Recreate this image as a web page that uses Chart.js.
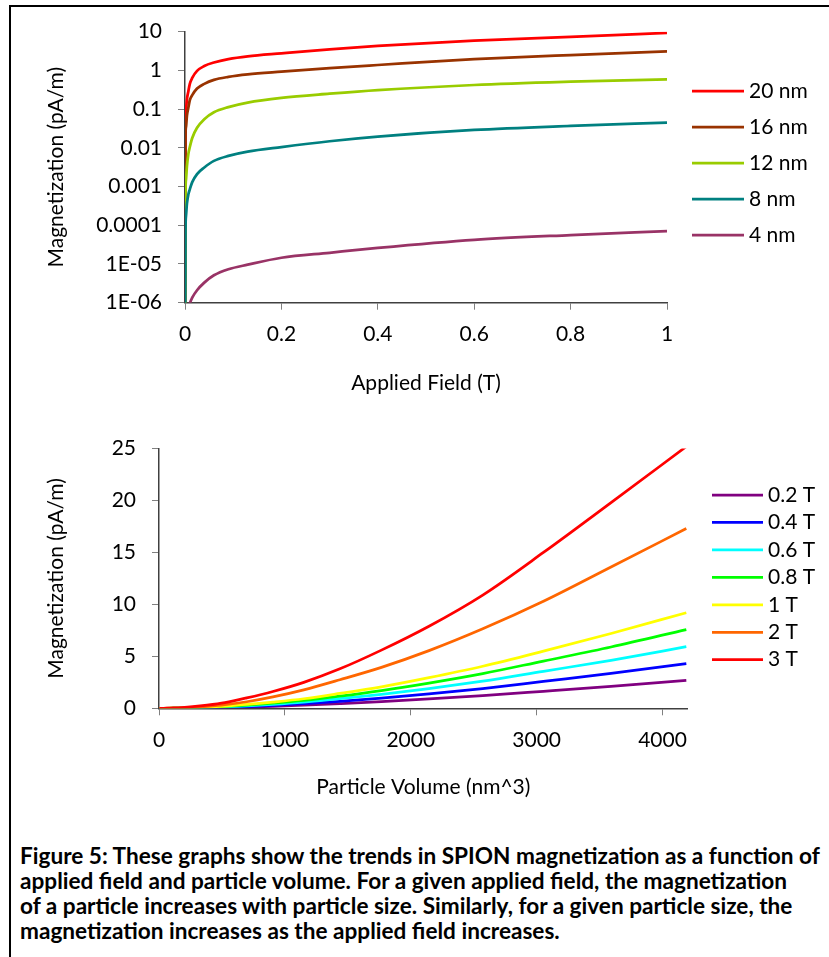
<!DOCTYPE html>
<html>
<head>
<meta charset="utf-8">
<script src="https://cdn.jsdelivr.net/npm/chart.js@4.4.1/dist/chart.umd.min.js"></script>
<style>
  body { margin: 0; background: #fff; width: 829px; height: 957px; overflow: hidden; position: relative; font-family: Lato, sans-serif; }
  #moldura { position: absolute; left: 9px; top: 5px; width: 900px; height: 1000px; border-left: 2px solid #000; border-top: 2px solid #000; }
  .caixa { position: absolute; left: 0; width: 829px; }
  #legenda_figura { position: absolute; left: 20px; top: 843px; font-weight: bold; font-size: 22.6px; line-height: 25px; color: #000; white-space: nowrap; }
</style>
</head>
<body>
<div id="moldura"></div>
<div class="caixa" style="top:0;height:420px"><canvas id="grafCampo" width="829" height="420"></canvas></div>
<div class="caixa" style="top:420px;height:400px"><canvas id="grafVolume" width="829" height="400"></canvas></div>
<div id="legenda_figura">Figure 5: These graphs show the trends in SPION magnetization as a function of<br>applied field and particle volume. For a given applied field, the magnetization<br>of a particle increases with particle size. Similarly, for a given particle size, the<br>magnetization increases as the applied field increases.</div>
<script>
// grafico de cima: campo aplicado (T) x magnetizacao (pA/m), escala log
var campo = [0, 0.001, 0.002, 0.004, 0.007, 0.01, 0.015, 0.025, 0.04, 0.06, 0.09, 0.13, 0.2, 0.3, 0.4, 0.6, 0.8, 1];
var mag20nm = [1e-9, 0.04, 0.095, 0.18, 0.29, 0.45, 0.64, 0.97, 1.3, 1.6, 1.95, 2.3, 2.75, 3.5, 4.3, 5.9, 7.4, 9.3];
var mag16nm = [1e-9, 0.018, 0.034, 0.068, 0.11, 0.17, 0.23, 0.34, 0.45, 0.57, 0.68, 0.79, 0.93, 1.15, 1.38, 1.95, 2.5, 3.1];
var mag12nm = [1e-9, 6e-4, 1.5e-3, 3.3e-3, 7e-3, 0.0105, 0.018, 0.033, 0.055, 0.083, 0.113, 0.148, 0.195, 0.25, 0.31, 0.42, 0.51, 0.59];
var mag8nm = [1e-9, 7e-5, 1.7e-4, 3.6e-4, 6.3e-4, 8.5e-4, 1.3e-3, 2.1e-3, 3.1e-3, 4.6e-3, 6.2e-3, 8.0e-3, 0.0105, 0.0148, 0.0195, 0.029, 0.037, 0.045];
var mag4nm = [1e-9, 1e-7, 1.9e-7, 3.8e-7, 6.6e-7, 9.5e-7, 1.35e-6, 2.1e-6, 3.3e-6, 5.1e-6, 7.3e-6, 9.6e-6, 1.45e-5, 1.95e-5, 2.6e-5, 4.2e-5, 5.6e-5, 7.1e-5];
var campoTicks = [0, 0.2, 0.4, 0.6, 0.8, 1];
var campoLabels = ['0', '0.2', '0.4', '0.6', '0.8', '1'];
var magTicks = [1e-6, 1e-5, 1e-4, 1e-3, 0.01, 0.1, 1, 10];
var magLabels = ['1E-06', '1E-05', '0.0001', '0.001', '0.01', '0.1', '1', '10'];

// grafico de baixo: volume da particula (nm^3) x magnetizacao
var volume = [4, 14, 34, 65, 113, 180, 268, 382, 524, 697, 905, 1150, 1437, 1767, 2145, 2572, 3054, 3591, 4189];
var mag02T = [0, 0, 0, 0.001, 0.003, 0.008, 0.018, 0.037, 0.068, 0.115, 0.19, 0.3, 0.45, 0.64, 0.9, 1.22, 1.64, 2.12, 2.69];
var mag04T = [0, 0, 0, 0.001, 0.005, 0.012, 0.027, 0.055, 0.1, 0.17, 0.28, 0.44, 0.67, 0.97, 1.38, 1.9, 2.59, 3.36, 4.31];
var mag06T = [0, 0, 0, 0.002, 0.007, 0.017, 0.038, 0.077, 0.142, 0.237, 0.385, 0.6, 0.92, 1.34, 1.9, 2.61, 3.56, 4.62, 5.93];
var mag08T = [0, 0, 0.001, 0.003, 0.009, 0.023, 0.05, 0.1, 0.18, 0.3, 0.49, 0.76, 1.17, 1.71, 2.43, 3.34, 4.55, 5.9, 7.58];
var mag1T = [0, 0, 0.001, 0.004, 0.011, 0.028, 0.06, 0.12, 0.22, 0.37, 0.6, 0.92, 1.43, 2.07, 2.95, 4.05, 5.5, 7.2, 9.2];
var mag2T = [0, 0, 0.001, 0.005, 0.017, 0.042, 0.093, 0.19, 0.35, 0.63, 1.1, 1.78, 2.75, 3.94, 5.55, 7.65, 10.3, 13.6, 17.3];
var mag3T = [0, 0, 0.002, 0.008, 0.03, 0.07, 0.15, 0.3, 0.55, 1.0, 1.62, 2.5, 3.8, 5.6, 7.9, 10.9, 15.0, 19.8, 25.2];
var volumeTicks = [0, 1000, 2000, 3000, 4000];

Chart.defaults.font.family = 'Lato';
Chart.defaults.font.size = 21;
Chart.defaults.color = '#000';
Chart.defaults.animation = false;

function pontos(xs, ys) {
    return xs.map(function (x, i) { return { x: x, y: ys[i] }; });
}

function serie(label, cor, xs, ys, ordem) {
    return {
        label: label,
        data: pontos(xs, ys),
        borderColor: cor,
        backgroundColor: cor,
        borderWidth: 2.75,
        pointRadius: 0,
        cubicInterpolationMode: 'monotone',
        order: ordem
    };
}

// legenda desenhada a mao, o Chart.js nao deixa espaco entre a area e a legenda
var legendaManual = {
    id: 'legendaManual',
    afterDraw: function (chart, args, opts) {
        var ctx = chart.ctx;
        ctx.save();
        ctx.font = '21px Lato';
        ctx.textBaseline = 'middle';
        ctx.fillStyle = '#000';
        chart.data.datasets.forEach(function (ds, i) {
            var y = opts.y + i * opts.step;
            ctx.strokeStyle = ds.borderColor;
            ctx.lineWidth = 2.75;
            ctx.beginPath();
            ctx.moveTo(opts.x, y);
            ctx.lineTo(opts.x + opts.len, y);
            ctx.stroke();
            ctx.fillText(ds.label, opts.x + opts.len + 5, y);
        });
        ctx.restore();
    }
};

var eixoGrade = { drawOnChartArea: false, tickLength: 7, color: '#808080' };
var eixoBorda = { color: '#404040', width: 1.5 };

var grafCampo = new Chart(document.getElementById('grafCampo').getContext('2d'), {
    type: 'line',
    data: {
        datasets: [
            serie('20 nm', '#FF0000', campo, mag20nm, 5),
            serie('16 nm', '#993300', campo, mag16nm, 4),
            serie('12 nm', '#99CC00', campo, mag12nm, 3),
            serie('8 nm', '#008080', campo, mag8nm, 2),
            serie('4 nm', '#993366', campo, mag4nm, 1)
        ]
    },
    options: {
        responsive: false,
        layout: { padding: { top: 31.7, left: 0, right: 162, bottom: 17.3 } },
        plugins: {
            legend: { display: false },
            tooltip: { enabled: false },
            legendaManual: { x: 692, len: 52, y: 91, step: 36 }
        },
        scales: {
            x: {
                type: 'linear', min: 0, max: 1,
                afterBuildTicks: function (s) { s.ticks = campoTicks.map(function (v) { return { value: v }; }); },
                afterFit: function (s) { s.height = 100; },
                ticks: { callback: function (v, i) { return campoLabels[i]; }, padding: 11.7, maxRotation: 0, autoSkip: false },
                grid: eixoGrade,
                border: eixoBorda,
                title: { display: true, text: 'Applied Field (T)', padding: { top: 0, bottom: 7 } }
            },
            y: {
                type: 'logarithmic', min: 1e-6, max: 10,
                afterBuildTicks: function (s) { s.ticks = magTicks.map(function (v) { return { value: v }; }); },
                afterFit: function (s) { s.width = 185; },
                ticks: { callback: function (v, i) { return magLabels[i]; }, padding: 16, autoSkip: false },
                grid: eixoGrade,
                border: eixoBorda,
                title: { display: true, text: 'Magnetization (pA/m)', padding: { top: 43.5, bottom: 0 } }
            }
        }
    },
    plugins: [legendaManual]
});

var grafVolume = new Chart(document.getElementById('grafVolume').getContext('2d'), {
    type: 'line',
    data: {
        datasets: [
            serie('0.2 T', '#800080', volume, mag02T, 7),
            serie('0.4 T', '#0000FF', volume, mag04T, 6),
            serie('0.6 T', '#00FFFF', volume, mag06T, 5),
            serie('0.8 T', '#00FF00', volume, mag08T, 4),
            serie('1 T', '#FFFF00', volume, mag1T, 3),
            serie('2 T', '#FF6600', volume, mag2T, 2),
            serie('3 T', '#FF0000', volume, mag3T, 1)
        ]
    },
    options: {
        responsive: false,
        layout: { padding: { top: 25.7, left: 0, right: 141.3, bottom: 11.7 } },
        plugins: {
            legend: { display: false },
            tooltip: { enabled: false },
            legendaManual: { x: 712, len: 51, y: 75, step: 27.45 }
        },
        scales: {
            x: {
                type: 'linear', min: 0, max: 4200,
                afterBuildTicks: function (s) { s.ticks = volumeTicks.map(function (v) { return { value: v }; }); },
                afterFit: function (s) { s.height = 100; },
                ticks: { callback: function (v) { return String(v); }, padding: 12.1, maxRotation: 0, autoSkip: false },
                grid: eixoGrade,
                border: eixoBorda,
                title: { display: true, text: 'Particle Volume (nm^3)', padding: { top: 0, bottom: 8.7 } }
            },
            y: {
                min: 0, max: 25,
                afterFit: function (s) { s.width = 159; },
                ticks: { stepSize: 5, padding: 16 },
                grid: eixoGrade,
                border: eixoBorda,
                title: { display: true, text: 'Magnetization (pA/m)', padding: { top: 43.5, bottom: 0 } }
            }
        }
    },
    plugins: [legendaManual]
});
</script>
</body>
</html>
